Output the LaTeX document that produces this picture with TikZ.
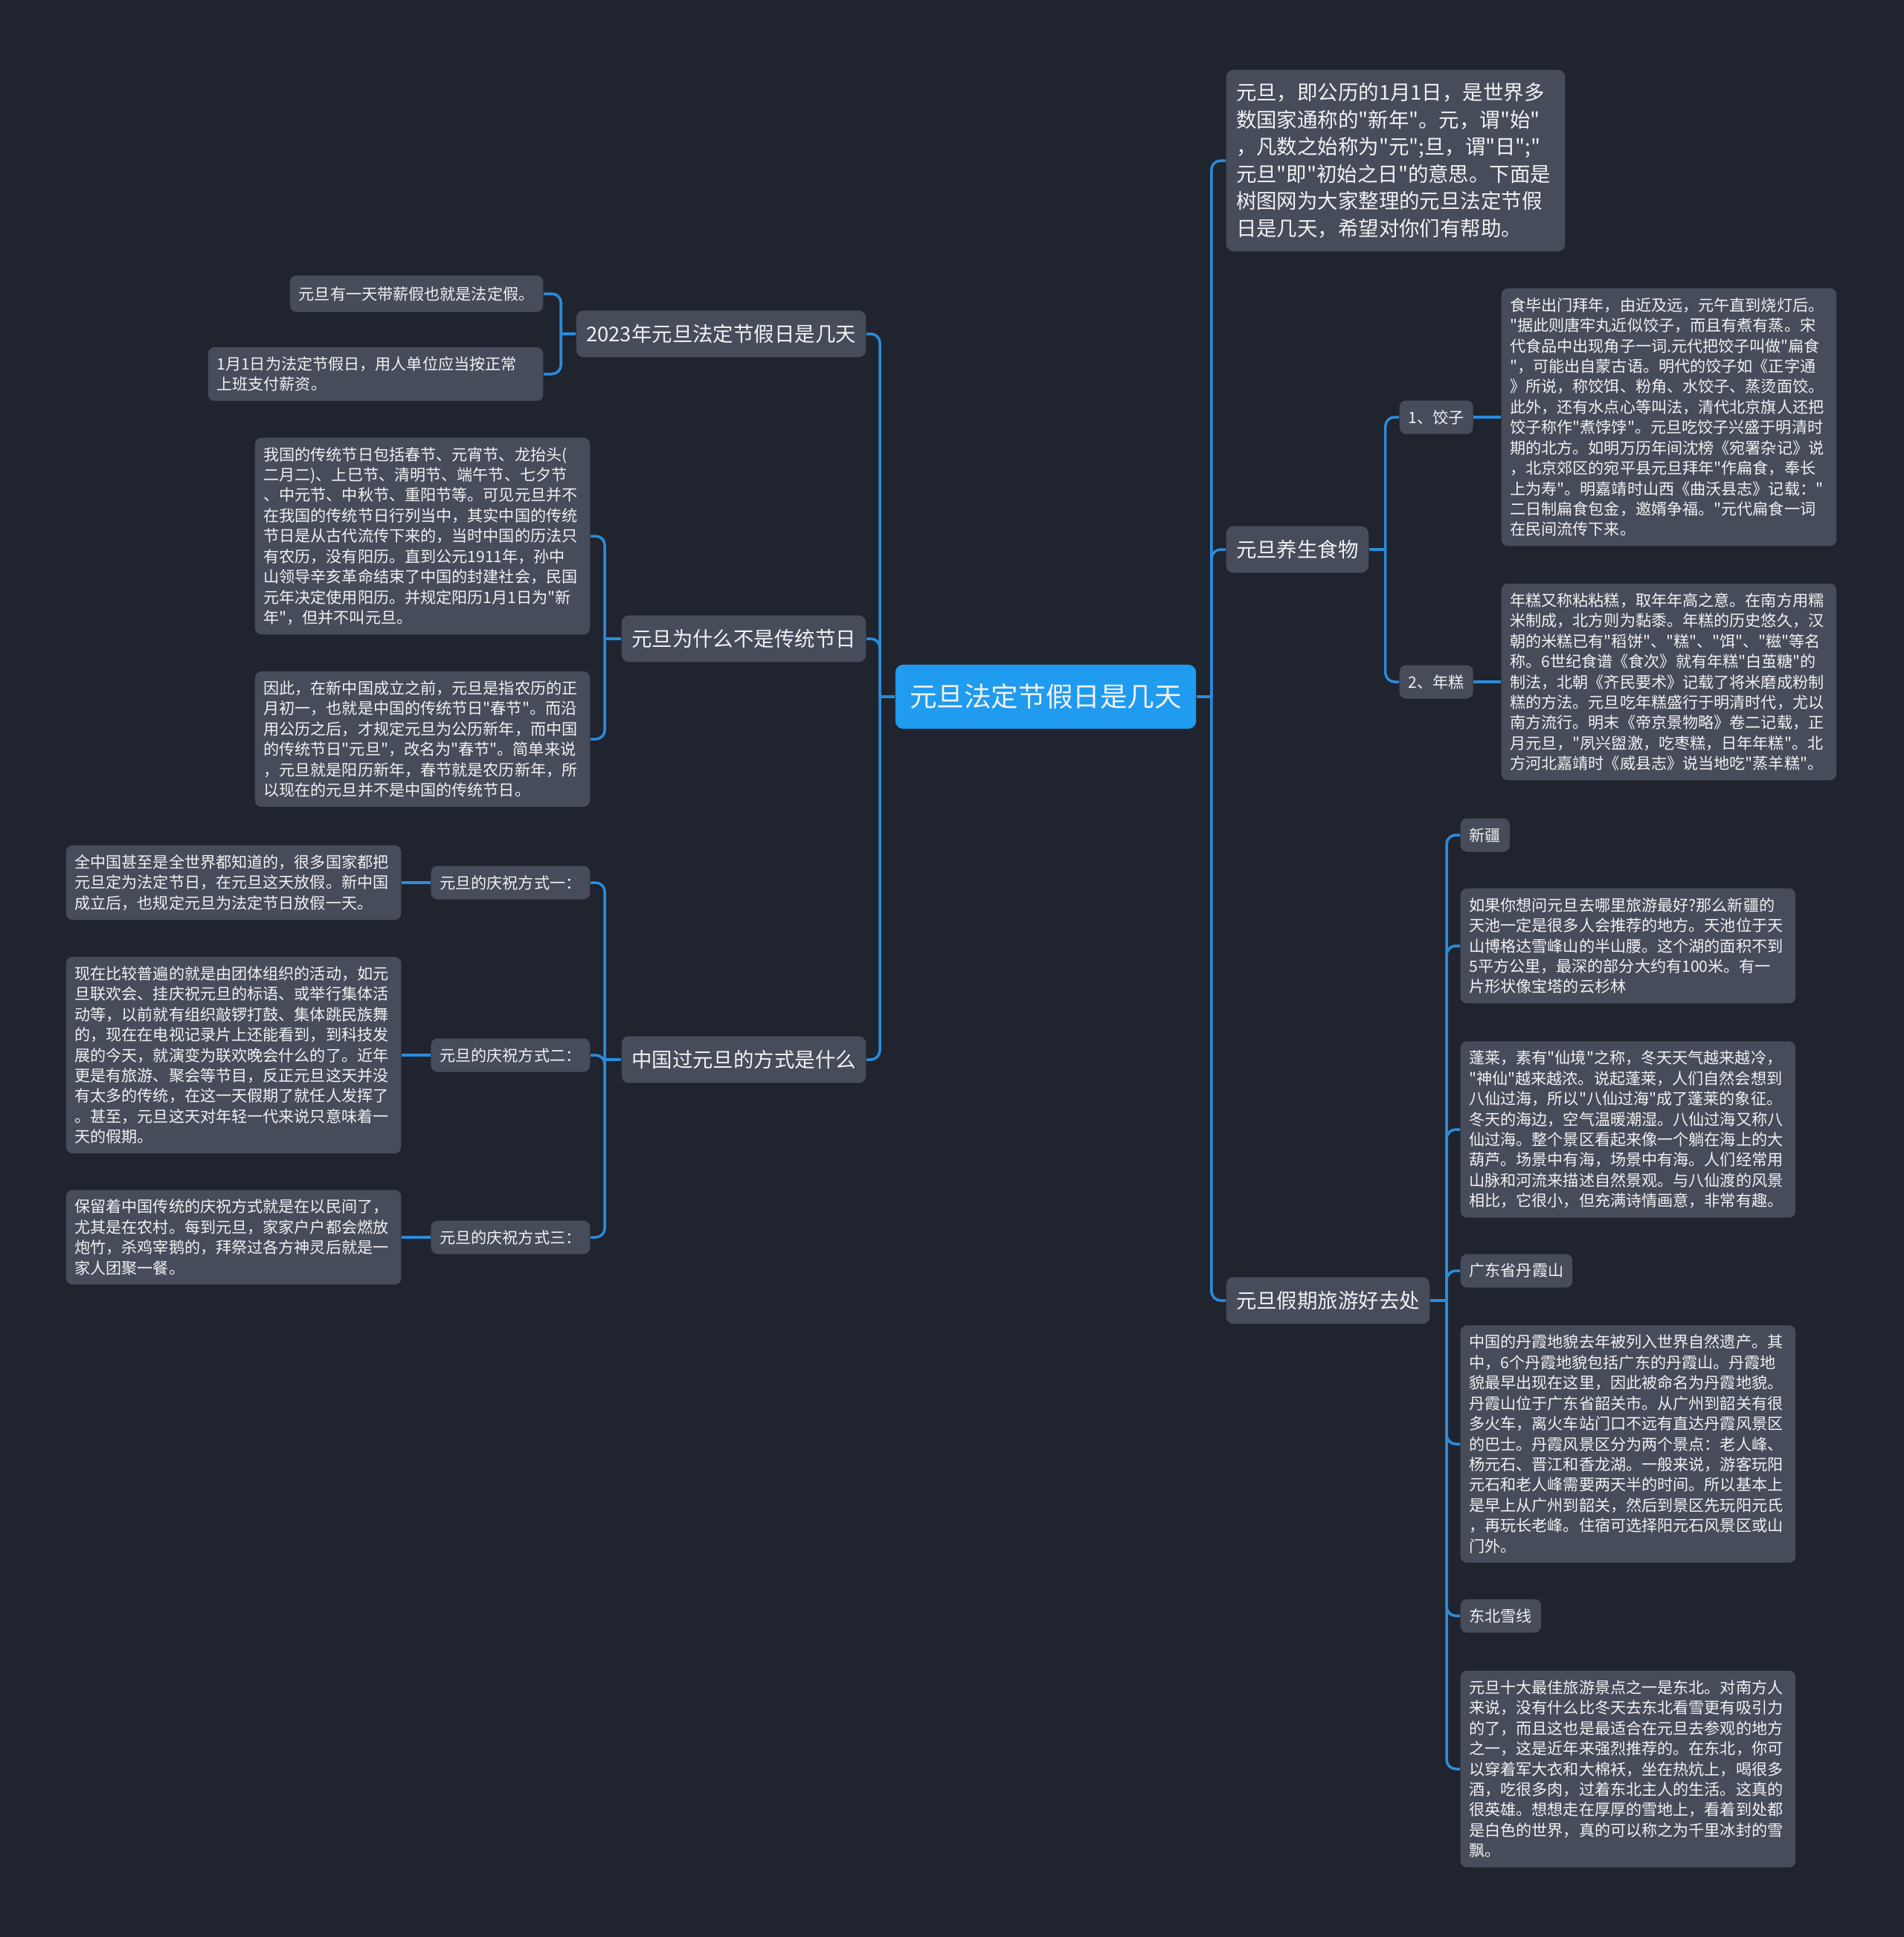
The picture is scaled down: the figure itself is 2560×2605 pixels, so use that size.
\documentclass[tikz,border=0pt]{standalone}
\usepackage{fontspec}
\newfontfamily\cjk{Noto Sans CJK SC}
\definecolor{bg}{HTML}{20242F}
\definecolor{boxgray}{HTML}{474C5B}
\definecolor{hubblue}{HTML}{1F9BF0}
\definecolor{linkblue}{HTML}{2B8CDB}
\definecolor{ink}{HTML}{F2F2F2}

\begin{document}
\begin{tikzpicture}[x=0.01cm, y=-0.01cm, every node/.style={text=ink, font=\cjk},
	main/.style={fill=hubblue, rounded corners=3pt, inner xsep=5.5pt, minimum height=24.5pt, font=\cjk\fontsize{10.4}{12}\selectfont},
	br/.style={fill=boxgray, rounded corners=2.8pt, inner xsep=3.8pt, minimum height=17.9pt, font=\cjk\fontsize{7.8}{10.4}\selectfont},
	bt/.style={br, text width=122pt, align=left, inner ysep=5pt},
	tg/.style={fill=boxgray, rounded corners=2.5pt, inner xsep=3.4pt, minimum height=12.8pt, font=\cjk\fontsize{6}{7.8}\selectfont},
	nt/.style={fill=boxgray, rounded corners=2.5pt, inner xsep=3.3pt, inner ysep=3.6pt, text width=121.5pt, align=left, font=\cjk\fontsize{6}{7.8}\selectfont},
	ln/.style={draw=linkblue, line width=1pt, rounded corners=3.5pt}]
	\fill[bg] (0,0) rectangle (2560,2605);
	% centre
	\node[main] (root) at (1406,937) {元旦法定节假日是几天};
	% right side
	\node[bt, anchor=west] (intro) at (1648,216) {元旦，即公历的1月1日，是世界多\\数国家通称的"新年"。元，谓"始"\\，凡数之始称为"元";旦，谓"日";"\\元旦"即"初始之日"的意思。下面是\\树图网为大家整理的元旦法定节假\\日是几天，希望对你们有帮助。};
	\node[br, anchor=west] (food) at (1648,739) {元旦养生食物};
	\node[tg, anchor=west] (jz) at (1881,561) {1、饺子};
	\node[nt, anchor=west] (jzt) at (2018,561) {食毕出门拜年，由近及远，元午直到烧灯后。\\"据此则唐牢丸近似饺子，而且有煮有蒸。宋\\代食品中出现角子一词.元代把饺子叫做"扁食\\"，可能出自蒙古语。明代的饺子如《正字通\\》所说，称饺饵、粉角、水饺子、蒸烫面饺。\\此外，还有水点心等叫法，清代北京旗人还把\\饺子称作"煮饽饽"。元旦吃饺子兴盛于明清时\\期的北方。如明万历年间沈榜《宛署杂记》说\\，北京郊区的宛平县元旦拜年"作扁食，奉长\\上为寿"。明嘉靖时山西《曲沃县志》记载："\\二日制扁食包金，邀婿争福。"元代扁食一词\\在民间流传下来。};
	\node[tg, anchor=west] (ng) at (1881,917) {2、年糕};
	\node[nt, anchor=west] (ngt) at (2018,917) {年糕又称粘粘糕，取年年高之意。在南方用糯\\米制成，北方则为黏黍。年糕的历史悠久，汉\\朝的米糕已有"稻饼"、"糕"、"饵"、"糍"等名\\称。6世纪食谱《食次》就有年糕"白茧糖"的\\制法，北朝《齐民要术》记载了将米磨成粉制\\糕的方法。元旦吃年糕盛行于明清时代，尤以\\南方流行。明末《帝京景物略》卷二记载，正\\月元旦，"夙兴盥激，吃枣糕，日年年糕"。北\\方河北嘉靖时《威县志》说当地吃"蒸羊糕"。};
	\node[br, anchor=west] (trip) at (1648,1749) {元旦假期旅游好去处};
	\node[tg, anchor=west] (xj) at (1963,1123) {新疆};
	\node[nt, anchor=west] (xjt) at (1963,1272) {如果你想问元旦去哪里旅游最好?那么新疆的\\天池一定是很多人会推荐的地方。天池位于天\\山博格达雪峰山的半山腰。这个湖的面积不到\\5平方公里，最深的部分大约有100米。有一\\片形状像宝塔的云杉林};
	\node[nt, anchor=west] (plt) at (1963,1519) {蓬莱，素有"仙境"之称，冬天天气越来越冷，\\"神仙"越来越浓。说起蓬莱，人们自然会想到\\八仙过海，所以"八仙过海"成了蓬莱的象征。\\冬天的海边，空气温暖潮湿。八仙过海又称八\\仙过海。整个景区看起来像一个躺在海上的大\\葫芦。场景中有海，场景中有海。人们经常用\\山脉和河流来描述自然景观。与八仙渡的风景\\相比，它很小，但充满诗情画意，非常有趣。};
	\node[tg, anchor=west] (dx) at (1963,1709) {广东省丹霞山};
	\node[nt, anchor=west] (dxt) at (1963,1942) {中国的丹霞地貌去年被列入世界自然遗产。其\\中，6个丹霞地貌包括广东的丹霞山。丹霞地\\貌最早出现在这里，因此被命名为丹霞地貌。\\丹霞山位于广东省韶关市。从广州到韶关有很\\多火车，离火车站门口不远有直达丹霞风景区\\的巴士。丹霞风景区分为两个景点：老人峰、\\杨元石、晋江和香龙湖。一般来说，游客玩阳\\元石和老人峰需要两天半的时间。所以基本上\\是早上从广州到韶关，然后到景区先玩阳元氏\\，再玩长老峰。住宿可选择阳元石风景区或山\\门外。};
	\node[tg, anchor=west] (db) at (1963,2173) {东北雪线};
	\node[nt, anchor=west] (dbt) at (1963,2379) {元旦十大最佳旅游景点之一是东北。对南方人\\来说，没有什么比冬天去东北看雪更有吸引力\\的了，而且这也是最适合在元旦去参观的地方\\之一，这是近年来强烈推荐的。在东北，你可\\以穿着军大衣和大棉袄，坐在热炕上，喝很多\\酒，吃很多肉，过着东北主人的生活。这真的\\很英雄。想想走在厚厚的雪地上，看着到处都\\是白色的世界，真的可以称之为千里冰封的雪\\飘。};
	% left side
	\node[br, anchor=east] (hol) at (1165,449) {2023年元旦法定节假日是几天};
	\node[tg, anchor=east, minimum height=14pt] (hola) at (731,395) {元旦有一天带薪假也就是法定假。};
	\node[nt, anchor=east] (holb) at (731,503) {1月1日为法定节假日，用人单位应当按正常\\上班支付薪资。};
	\node[br, anchor=east] (why) at (1165,859) {元旦为什么不是传统节日};
	\node[nt, anchor=east] (whya) at (794,721) {我国的传统节日包括春节、元宵节、龙抬头(\\二月二)、上巳节、清明节、端午节、七夕节\\、中元节、中秋节、重阳节等。可见元旦并不\\在我国的传统节日行列当中，其实中国的传统\\节日是从古代流传下来的，当时中国的历法只\\有农历，没有阳历。直到公元1911年，孙中\\山领导辛亥革命结束了中国的封建社会，民国\\元年决定使用阳历。并规定阳历1月1日为"新\\年"，但并不叫元旦。};
	\node[nt, anchor=east] (whyb) at (794,994) {因此，在新中国成立之前，元旦是指农历的正\\月初一，也就是中国的传统节日"春节"。而沿\\用公历之后，才规定元旦为公历新年，而中国\\的传统节日"元旦"，改名为"春节"。简单来说\\，元旦就是阳历新年，春节就是农历新年，所\\以现在的元旦并不是中国的传统节日。};
	\node[br, anchor=east] (how) at (1165,1425) {中国过元旦的方式是什么};
	\node[tg, anchor=east] (c1) at (794,1187) {元旦的庆祝方式一：};
	\node[nt, anchor=east] (c1t) at (540,1187) {全中国甚至是全世界都知道的，很多国家都把\\元旦定为法定节日，在元旦这天放假。新中国\\成立后，也规定元旦为法定节日放假一天。};
	\node[tg, anchor=east] (c2) at (794,1419) {元旦的庆祝方式二：};
	\node[nt, anchor=east] (c2t) at (540,1419) {现在比较普遍的就是由团体组织的活动，如元\\旦联欢会、挂庆祝元旦的标语、或举行集体活\\动等，以前就有组织敲锣打鼓、集体跳民族舞\\的，现在在电视记录片上还能看到，到科技发\\展的今天，就演变为联欢晚会什么的了。近年\\更是有旅游、聚会等节目，反正元旦这天并没\\有太多的传统，在这一天假期了就任人发挥了\\。甚至，元旦这天对年轻一代来说只意味着一\\天的假期。};
	\node[tg, anchor=east] (c3) at (794,1664) {元旦的庆祝方式三：};
	\node[nt, anchor=east] (c3t) at (540,1664) {保留着中国传统的庆祝方式就是在以民间了，\\尤其是在农村。每到元旦，家家户户都会燃放\\炮竹，杀鸡宰鹅的，拜祭过各方神灵后就是一\\家人团聚一餐。};
	% connectors
	\draw[ln] (root.east) -- ++(20,0) coordinate (rj);
	\foreach \c in {intro,food,trip} {\draw[ln] (rj) |- (\c.west);}
	\draw[ln] (food.east) -- ++(22,0) coordinate (fj);
	\foreach \c in {jz,ng} {\draw[ln] (fj) |- (\c.west);}
	\draw[ln] (trip.east) -- ++(22,0) coordinate (tj);
	\foreach \c in {xj,xjt,plt,dx,dxt,db,dbt} {\draw[ln] (tj) |- (\c.west);}
	\draw[ln] (root.west) -- ++(-20,0) coordinate (lj);
	\foreach \c in {hol,why,how} {\draw[ln] (lj) |- (\c.east);}
	\draw[ln] (hol.west) -- ++(-20,0) coordinate (hj);
	\foreach \c in {hola,holb} {\draw[ln] (hj) |- (\c.east);}
	\draw[ln] (why.west) -- ++(-22,0) coordinate (wj);
	\foreach \c in {whya,whyb} {\draw[ln] (wj) |- (\c.east);}
	\draw[ln] (how.west) -- ++(-22,0) coordinate (cj);
	\foreach \c in {c1,c2,c3} {\draw[ln] (cj) |- (\c.east);}
	\foreach \a/\b in {jz/jzt, ng/ngt, c1/c1t, c2/c2t, c3/c3t} {\draw[ln] (\a) -- (\b);}
\end{tikzpicture}
\end{document}
